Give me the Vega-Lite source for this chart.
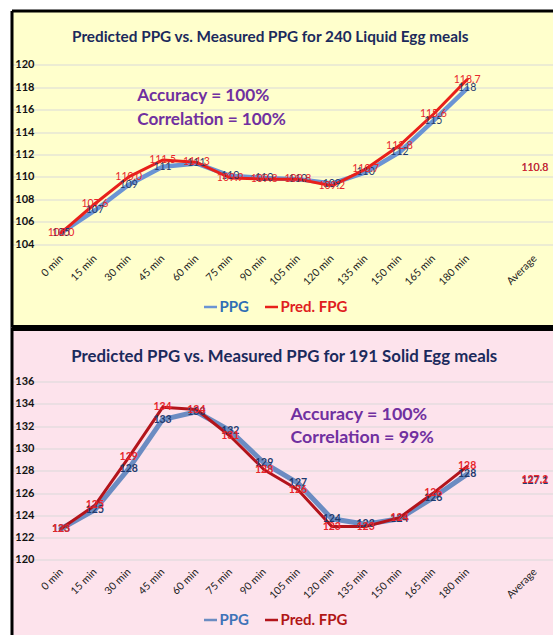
{
  "$schema": "https://vega.github.io/schema/vega-lite/v6.json",
  "usermeta": {"embedOptions": {"actions": false}},
  "background": "white",
  "padding": {"left": 11.5, "top": 10.5, "right": 0, "bottom": 0},
  "spacing": 0,
  "datasets": {
    "liquid": [
      {"time": "0 min", "series": "PPG", "value": 105.0, "label": "105"},
      {"time": "15 min", "series": "PPG", "value": 107.0, "label": "107"},
      {"time": "30 min", "series": "PPG", "value": 109.3, "label": "109"},
      {"time": "45 min", "series": "PPG", "value": 110.9, "label": "111"},
      {"time": "60 min", "series": "PPG", "value": 111.2, "label": "111"},
      {"time": "75 min", "series": "PPG", "value": 110.1, "label": "110"},
      {"time": "90 min", "series": "PPG", "value": 109.9, "label": "110"},
      {"time": "105 min", "series": "PPG", "value": 109.8, "label": "110"},
      {"time": "120 min", "series": "PPG", "value": 109.4, "label": "109"},
      {"time": "135 min", "series": "PPG", "value": 110.4, "label": "110"},
      {"time": "150 min", "series": "PPG", "value": 112.2, "label": "112"},
      {"time": "165 min", "series": "PPG", "value": 115.0, "label": "115"},
      {"time": "180 min", "series": "PPG", "value": 117.9, "label": "118"},
      {"time": "Average", "series": "PPG", "value": 110.8, "label": "110.8"},
      {"time": "0 min", "series": "Pred. FPG", "value": 105.0, "label": "105.0"},
      {"time": "15 min", "series": "Pred. FPG", "value": 107.6, "label": "107.6"},
      {"time": "30 min", "series": "Pred. FPG", "value": 110.0, "label": "110.0"},
      {"time": "45 min", "series": "Pred. FPG", "value": 111.5, "label": "111.5"},
      {"time": "60 min", "series": "Pred. FPG", "value": 111.3, "label": "111.3"},
      {"time": "75 min", "series": "Pred. FPG", "value": 109.9, "label": "109.9"},
      {"time": "90 min", "series": "Pred. FPG", "value": 109.8, "label": "109.8"},
      {"time": "105 min", "series": "Pred. FPG", "value": 109.8, "label": "109.8"},
      {"time": "120 min", "series": "Pred. FPG", "value": 109.2, "label": "109.2"},
      {"time": "135 min", "series": "Pred. FPG", "value": 110.7, "label": "110.7"},
      {"time": "150 min", "series": "Pred. FPG", "value": 112.8, "label": "112.8"},
      {"time": "165 min", "series": "Pred. FPG", "value": 115.6, "label": "115.6"},
      {"time": "180 min", "series": "Pred. FPG", "value": 118.7, "label": "118.7"},
      {"time": "Average", "series": "Pred. FPG", "value": 110.8, "label": "110.8"}
    ],
    "solid": [
      {"time": "0 min", "series": "PPG", "value": 122.8, "label": "123"},
      {"time": "15 min", "series": "PPG", "value": 124.5, "label": "125"},
      {"time": "30 min", "series": "PPG", "value": 128.2, "label": "128"},
      {"time": "45 min", "series": "PPG", "value": 132.6, "label": "133"},
      {"time": "60 min", "series": "PPG", "value": 133.3, "label": "133"},
      {"time": "75 min", "series": "PPG", "value": 131.6, "label": "132"},
      {"time": "90 min", "series": "PPG", "value": 128.7, "label": "129"},
      {"time": "105 min", "series": "PPG", "value": 126.9, "label": "127"},
      {"time": "120 min", "series": "PPG", "value": 123.7, "label": "124"},
      {"time": "135 min", "series": "PPG", "value": 123.2, "label": "123"},
      {"time": "150 min", "series": "PPG", "value": 123.7, "label": "124"},
      {"time": "165 min", "series": "PPG", "value": 125.6, "label": "126"},
      {"time": "180 min", "series": "PPG", "value": 127.7, "label": "128"},
      {"time": "Average", "series": "PPG", "value": 127.1, "label": "127.1"},
      {"time": "0 min", "series": "Pred. FPG", "value": 122.8, "label": "123"},
      {"time": "15 min", "series": "Pred. FPG", "value": 124.9, "label": "125"},
      {"time": "30 min", "series": "Pred. FPG", "value": 129.2, "label": "129"},
      {"time": "45 min", "series": "Pred. FPG", "value": 133.7, "label": "134"},
      {"time": "60 min", "series": "Pred. FPG", "value": 133.5, "label": "134"},
      {"time": "75 min", "series": "Pred. FPG", "value": 131.1, "label": "131"},
      {"time": "90 min", "series": "Pred. FPG", "value": 128.1, "label": "128"},
      {"time": "105 min", "series": "Pred. FPG", "value": 126.3, "label": "126"},
      {"time": "120 min", "series": "Pred. FPG", "value": 123.0, "label": "123"},
      {"time": "135 min", "series": "Pred. FPG", "value": 123.0, "label": "123"},
      {"time": "150 min", "series": "Pred. FPG", "value": 123.8, "label": "124"},
      {"time": "165 min", "series": "Pred. FPG", "value": 126.0, "label": "126"},
      {"time": "180 min", "series": "Pred. FPG", "value": 128.4, "label": "128"},
      {"time": "Average", "series": "Pred. FPG", "value": 127.2, "label": "127.2"}
    ]
  },
  "vconcat": [
    {
      "width": 541.5,
      "height": 317,
      "view": {"fill": "#FFFFCC", "stroke": null},
      "title": {"text": "Predicted PPG vs. Measured PPG for 240 Liquid Egg meals", "offset": -35, "dx": -12, "font": "Lato", "fontSize": 15.3, "fontWeight": "bold", "color": "#1B2A5C"},
      "data": {"name": "liquid"},
      "resolve": {"axis": {"x": "independent", "y": "independent"}},
      "layer": [
        {
          "transform": [{"filter": "datum.series === 'PPG' && datum.time !== 'Average'"}],
          "mark": {"type": "line", "strokeWidth": 4.5, "strokeJoin": "round", "strokeCap": "round"},
          "encoding": {
            "x": {"field": "time", "type": "ordinal",
              "scale": {"type": "point", "domain": ["0 min","15 min","30 min","45 min","60 min","75 min","90 min","105 min","120 min","135 min","150 min","165 min","180 min"," ","Average"], "padding": 1.022, "align": 0.732},
              "axis": {"orient": "bottom", "offset": -75, "domain": false, "ticks": false, "grid": false, "labelAngle": -45, "labelAlign": "right", "labelBaseline": "middle", "labelPadding": 4, "labelFont": "Lato", "labelFontSize": 10.5, "labelColor": "#222222", "labelOverlap": false, "title": null}},
            "y": {"field": "value", "type": "quantitative",
              "scale": {"domain": [96.54, 124.87], "nice": false, "zero": false},
              "axis": {"orient": "left", "values": [104,106,108,110,112,114,116,118,120], "tickCount": 30, "labelOverlap": false, "offset": -24.5, "domain": false, "ticks": false, "labelPadding": 2, "grid": true, "gridColor": "#D9D9D9", "labelFont": "Lato", "labelFontSize": 11, "labelFontWeight": "bold", "labelColor": "#111111", "title": null}},
            "color": {"field": "series", "type": "nominal",
              "scale": {"domain": ["PPG", "Pred. FPG"], "range": ["#6A94D4", "#E8201A"]},
              "legend": {"orient": "none", "legendX": 191, "legendY": 288.5, "direction": "horizontal", "title": null, "symbolType": "stroke", "symbolSize": 169, "symbolStrokeWidth": 2.5, "labelFont": "Lato", "labelFontSize": 15, "labelFontWeight": "bold", "labelOffset": 1, "columnPadding": 10, "padding": 0,
                "encode": {"symbols": {"update": {"strokeCap": {"value": "butt"}}}, "labels": {"update": {"fill": {"signal": "datum.label === 'PPG' ? '#2F6EB5' : '#E0201E'"}}}}}},
            "order": {"value": null}
          }
        },
        {
          "transform": [{"filter": "datum.series === 'Pred. FPG' && datum.time !== 'Average'"}],
          "mark": {"type": "line", "strokeWidth": 3, "strokeJoin": "round", "strokeCap": "round"},
          "encoding": {
            "x": {"field": "time", "type": "ordinal",
              "axis": {"orient": "top", "offset": 0, "domain": true, "domainColor": "#000000", "domainWidth": 3, "labels": false, "ticks": false, "grid": false, "title": null}},
            "y": {"field": "value", "type": "quantitative",
              "axis": {"orient": "left", "offset": 0, "domain": true, "domainColor": "#000000", "domainWidth": 3, "labels": false, "ticks": false, "grid": false, "title": null}},
            "color": {"field": "series", "type": "nominal"},
            "order": {"value": null}
          }
        },
        {
          "mark": {"type": "text", "font": "Lato", "fontSize": 10.5},
          "encoding": {
            "x": {"field": "time", "type": "ordinal",
              "axis": {"orient": "bottom", "offset": 0, "domain": true, "domainColor": "#000000", "domainWidth": 3, "labels": false, "ticks": false, "grid": false, "title": null}},
            "y": {"field": "value", "type": "quantitative", "axis": null},
            "text": {"field": "label"},
            "fill": {"field": "series", "type": "nominal", "scale": {"domain": ["PPG", "Pred. FPG"], "range": ["#1F3A6E", "#E8262B"]}, "legend": null}
          }
        },
        {
          "data": {"values": [{"note": "Accuracy = 100%\nCorrelation = 100%"}]},
          "mark": {"type": "text", "lineBreak": "\n", "align": "left", "baseline": "middle", "font": "Lato", "fontSize": 17.2, "fontWeight": "bold", "color": "#7030A0", "dx": 8.5, "lineHeight": 23.5},
          "encoding": {
            "x": {"datum": "30 min", "type": "ordinal", "axis": null},
            "y": {"datum": 117.2, "type": "quantitative", "axis": null},
            "text": {"field": "note"}
          }
        }
      ]
    },
    {
      "width": 541.5,
      "height": 307.5,
      "view": {"fill": "#FDE3EC", "stroke": null},
      "title": {"text": "Predicted PPG vs. Measured PPG for 191 Solid Egg meals", "offset": -38.5, "dx": 2, "font": "Lato", "fontSize": 16.8, "fontWeight": "bold", "color": "#1B2A5C"},
      "data": {"name": "solid"},
      "resolve": {"axis": {"x": "independent", "y": "independent"}},
      "layer": [
        {
          "transform": [{"filter": "datum.series === 'PPG' && datum.time !== 'Average'"}],
          "mark": {"type": "line", "strokeWidth": 5, "strokeJoin": "round", "strokeCap": "round"},
          "encoding": {
            "x": {"field": "time", "type": "ordinal",
              "scale": {"type": "point", "domain": ["0 min","15 min","30 min","45 min","60 min","75 min","90 min","105 min","120 min","135 min","150 min","165 min","180 min"," ","Average"], "padding": 1.022, "align": 0.732},
              "axis": {"orient": "bottom", "offset": -69, "domain": false, "ticks": false, "grid": false, "labelAngle": -45, "labelAlign": "right", "labelBaseline": "middle", "labelPadding": 4, "labelFont": "Lato", "labelFontSize": 10.5, "labelColor": "#222222", "labelOverlap": false, "title": null}},
            "y": {"field": "value", "type": "quantitative",
              "scale": {"domain": [113.26, 140.865], "nice": false, "zero": false},
              "axis": {"orient": "left", "values": [120,122,124,126,128,130,132,134,136], "tickCount": 30, "labelOverlap": false, "offset": -24.5, "domain": false, "ticks": false, "labelPadding": 2, "grid": true, "gridColor": "#D9D9D9", "labelFont": "Lato", "labelFontSize": 11, "labelFontWeight": "bold", "labelColor": "#111111", "title": null}},
            "color": {"field": "series", "type": "nominal",
              "scale": {"domain": ["PPG", "Pred. FPG"], "range": ["#6B8CC2", "#B3141B"]},
              "legend": {"orient": "none", "legendX": 191, "legendY": 284.5, "direction": "horizontal", "title": null, "symbolType": "stroke", "symbolSize": 169, "symbolStrokeWidth": 2.5, "labelFont": "Lato", "labelFontSize": 15, "labelFontWeight": "bold", "labelOffset": 1, "columnPadding": 10, "padding": 0,
                "encode": {"symbols": {"update": {"strokeCap": {"value": "butt"}}}, "labels": {"update": {"fill": {"signal": "datum.label === 'PPG' ? '#3F73B8' : '#B11616'"}}}}}},
            "order": {"value": null}
          }
        },
        {
          "transform": [{"filter": "datum.series === 'Pred. FPG' && datum.time !== 'Average'"}],
          "mark": {"type": "line", "strokeWidth": 3, "strokeJoin": "round", "strokeCap": "round"},
          "encoding": {
            "x": {"field": "time", "type": "ordinal",
              "axis": {"orient": "top", "offset": 0, "domain": true, "domainColor": "#000000", "domainWidth": 6, "labels": false, "ticks": false, "grid": false, "title": null}},
            "y": {"field": "value", "type": "quantitative",
              "axis": {"orient": "left", "offset": 0, "domain": true, "domainColor": "#000000", "domainWidth": 3, "labels": false, "ticks": false, "grid": false, "title": null}},
            "color": {"field": "series", "type": "nominal"},
            "order": {"value": null}
          }
        },
        {
          "mark": {"type": "text", "font": "Lato", "fontSize": 10.5, "fontWeight": "bold"},
          "encoding": {
            "x": {"field": "time", "type": "ordinal", "axis": null},
            "y": {"field": "value", "type": "quantitative", "axis": null},
            "text": {"field": "label"},
            "fill": {"field": "series", "type": "nominal", "scale": {"domain": ["PPG", "Pred. FPG"], "range": ["#1F3A6E", "#E8262B"]}, "legend": null}
          }
        },
        {
          "data": {"values": [{"note": "Accuracy = 100%\nCorrelation = 99%"}]},
          "mark": {"type": "text", "lineBreak": "\n", "align": "left", "baseline": "middle", "font": "Lato", "fontSize": 17.8, "fontWeight": "bold", "color": "#7030A0", "dx": -7.5, "lineHeight": 23},
          "encoding": {
            "x": {"datum": "105 min", "type": "ordinal", "axis": null},
            "y": {"datum": 133.0, "type": "quantitative", "axis": null},
            "text": {"field": "note"}
          }
        }
      ]
    }
  ],
  "resolve": {
    "scale": {"x": "independent", "y": "independent", "color": "independent", "fill": "independent"},
    "legend": {"color": "independent"}
  },
  "config": {"font": "Lato"}
}
